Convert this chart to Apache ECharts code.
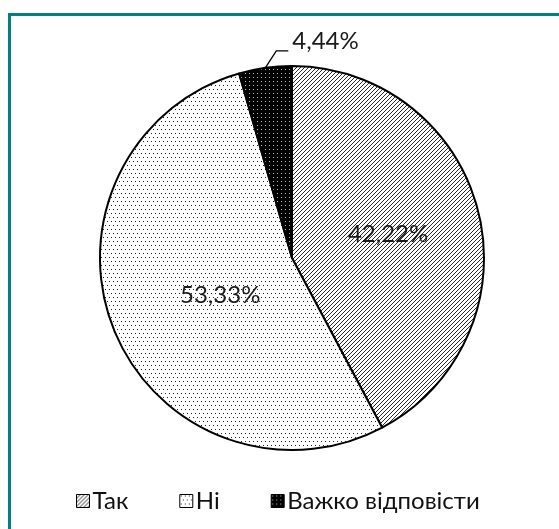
<!DOCTYPE html>
<html><head><meta charset="utf-8">
<script src="https://cdn.jsdelivr.net/npm/echarts@6/dist/echarts.min.js"></script>
<style>html,body{margin:0;padding:0;background:#fff}#c{width:559px;height:529px}</style>
</head><body><div id="c"></div>
<script>
const categories = ['Так', 'Ні', 'Важко відповісти'];
const values = [42.22, 53.33, 4.44];
const valueLabels = ['42,22%', '53,33%', '4,44%'];

function hatchPattern() {
  const c = document.createElement('canvas'); c.width = 4; c.height = 4;
  const g = c.getContext('2d');
  g.fillStyle = '#fff'; g.fillRect(0, 0, 4, 4);
  g.strokeStyle = '#2a2a2a'; g.lineWidth = 1;
  g.beginPath();
  g.moveTo(-1, 5); g.lineTo(5, -1);
  g.moveTo(-1, 1); g.lineTo(1, -1);
  g.moveTo(3, 5); g.lineTo(5, 3);
  g.stroke();
  return c;
}
function dotPattern() {
  const c = document.createElement('canvas'); c.width = 8; c.height = 8;
  const g = c.getContext('2d');
  g.fillStyle = '#fff'; g.fillRect(0, 0, 8, 8);
  g.fillStyle = '#222';
  [[1,1],[5,1],[3,5],[7,5]].forEach(p => g.fillRect(p[0], p[1], 1, 1));
  return c;
}
function darkPattern() {
  const c = document.createElement('canvas'); c.width = 4; c.height = 4;
  const g = c.getContext('2d');
  g.fillStyle = '#000'; g.fillRect(0, 0, 4, 4);
  g.fillStyle = '#c0c0c0'; g.fillRect(1, 1, 1, 1);
  return c;
}
const patterns = [hatchPattern(), dotPattern(), darkPattern()];

const chart = echarts.init(document.getElementById('c'), null, {renderer: 'canvas'});
const font = 'Lato';
chart.setOption({
  animation: false,
  backgroundColor: '#fff',
  graphic: [{
    type: 'rect', z: -10, silent: true,
    shape: {x: 9.5, y: 14.5, width: 700, height: 700},
    style: {fill: 'none', stroke: '#008080', lineWidth: 3}
  }],
  legend: {
    top: 484, left: 71, icon: 'rect', itemWidth: 13, itemHeight: 13, itemGap: 51,
    textStyle: {fontFamily: font, fontSize: 24, color: '#111', padding: [0, 0, 0, -2]},
    itemStyle: {borderColor: '#000', borderWidth: 1}
  },
  series: [{
    type: 'pie', center: [292, 258], radius: 192, startAngle: 90, clockwise: true,
    itemStyle: {borderColor: '#000', borderWidth: 2},
    label: {
      position: 'inside', fontFamily: font, fontSize: 24, color: '#1a1a1a',
      formatter: p => valueLabels[p.dataIndex]
    },
    labelLine: {show: true, lineStyle: {color: '#000', width: 1.3}},
    labelLayout: function (params) {
      if (params.dataIndex === 1) return {dx: 20};
      if (params.dataIndex === 2 && params.labelLinePoints) {
        const p0 = params.labelLinePoints[0];
        return {
          x: p0[0] + 27, y: p0[1] - 27, align: 'left', verticalAlign: 'middle',
          labelLinePoints: [p0, [p0[0] + 11, p0[1] - 17], [p0[0] + 23, p0[1] - 17]]
        };
      }
      return {};
    },
    data: categories.map((n, i) => ({
      name: n, value: values[i],
      itemStyle: {color: {image: patterns[i], repeat: 'repeat'}},
      label: i === 2 ? {position: 'outside'} : {}
    }))
  }]
});
</script></body></html>
